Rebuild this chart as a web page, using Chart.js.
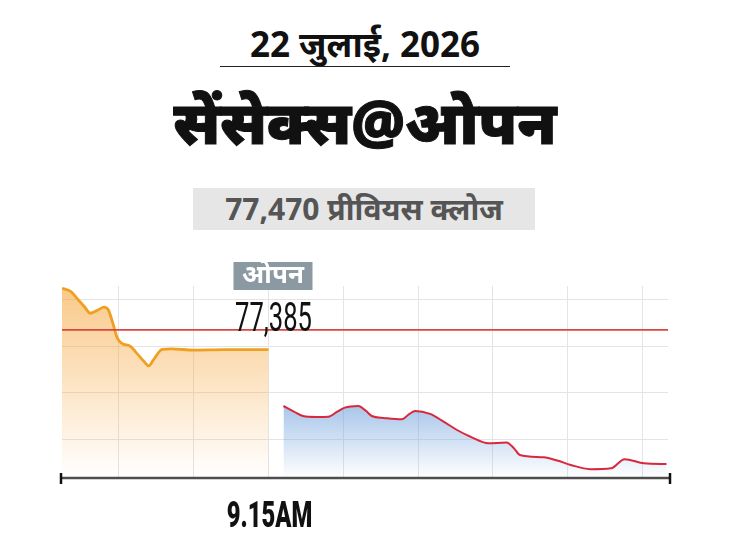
<!DOCTYPE html>
<html>
<head>
<meta charset="utf-8">
<script src="https://cdn.jsdelivr.net/npm/chart.js@4/dist/chart.umd.min.js"></script>
<style>
    body {
        margin: 0;
        width: 730px;
        height: 548px;
        background: #ffffff;
        position: relative;
        overflow: hidden;
        font-family: "Noto Sans", sans-serif;
    }
    #date {
        position: absolute;
        top: 20px;
        left: 0;
        width: 730px;
        text-align: center;
        font-size: 35px;
        font-weight: bold;
        color: #111;
    }
    #dateLine {
        position: absolute;
        top: 66px;
        left: 220px;
        width: 290px;
        height: 0;
        border-top: 1.5px solid #222;
    }
    #title {
        position: absolute;
        top: 80px;
        left: 0;
        width: 730px;
        text-align: center;
        font-size: 60px;
        font-weight: 900;
        color: #111;
        -webkit-text-stroke: 1px #111;
    }
    #prevClose {
        position: absolute;
        top: 188px;
        left: 193px;
        width: 342px;
        height: 42px;
        line-height: 42px;
        background: #e6e6e6;
        text-align: center;
        font-size: 30px;
        font-weight: bold;
        color: #555;
    }
    #wrap {
        position: absolute;
        top: 250px;
        left: 0;
        width: 730px;
        height: 298px;
    }
</style>
</head>
<body>
<div id="date">22 जुलाई, 2026</div>
<div id="dateLine"></div>
<div id="title">सेंसेक्स@ओपन</div>
<div id="prevClose">77,470 प्रीवियस क्लोज</div>
<div id="wrap"><canvas id="myChart"></canvas></div>

<script>
"use strict";

// minutes after 9:00
const preOpenMinutes = [1.2, 1.8, 2.2, 2.7, 3.1, 3.6, 4.0, 4.3, 4.6, 4.9, 5.2, 5.8, 6.2, 6.7, 7.0, 7.3, 7.9, 8.5, 10, 12, 15];
const preOpenValues = [77648, 77634, 77605, 77569, 77541, 77555, 77567, 77555, 77498, 77434, 77412, 77398, 77369, 77333, 77315, 77340, 77386, 77388, 77383, 77385, 77385];

const sessionMinutes = [16.0, 16.7, 17.3, 18.2, 19.0, 19.6, 20.1, 21.0, 21.5, 21.9, 22.7, 23.9, 24.4, 24.8, 25.8, 26.7, 27.6, 28.5, 29.7, 30.9, 31.4, 31.8, 33.4, 34.3, 35.2, 36.5, 37.9, 38.8, 40.1, 41.6];
const sessionValues = [77143, 77119, 77100, 77096, 77097, 77119, 77136, 77143, 77123, 77100, 77092, 77086, 77108, 77122, 77109, 77076, 77040, 77011, 76983, 76986, 76962, 76933, 76923, 76909, 76890, 76872, 76876, 76915, 76897, 76894];

const previousClose = 77470;
const openValue = 77385;
const openMinute = 15;
const openLabel = 'ओपन';
const timeLabel = '9.15AM';

const xRange = [1.2, 41.7];
const yRange = [76834, 77658];
const xTicks = [5, 10, 15, 20, 25, 30, 35, 40];
const yTicks = [77000, 77200, 77400, 77600];

const toPoints = (xs, ys) => xs.map((x, i) => ({ x: x, y: ys[i] }));

// gradient under a line, from the top of its series down to the axis
function fadeFill(rgb, topValue, top, mid) {
    return (context) => {
        const chart = context.chart;
        const area = chart.chartArea;
        if (!area) {
            return 'rgba(' + rgb + ',0)';
        }
        const y0 = chart.scales.y.getPixelForValue(topValue);
        const g = chart.ctx.createLinearGradient(0, y0, 0, area.bottom);
        g.addColorStop(0, 'rgba(' + rgb + ',' + top + ')');
        g.addColorStop(0.5, 'rgba(' + rgb + ',' + mid + ')');
        g.addColorStop(1, 'rgba(' + rgb + ',0)');
        return g;
    };
}

// axis with end caps, open label and time label
const labelsPlugin = {
    id: 'labels',
    afterDraw(chart) {
        const ctx = chart.ctx;
        const area = chart.chartArea;
        const xs = chart.scales.x;
        const ox = xs.getPixelForValue(openMinute);

        ctx.save();
        ctx.strokeStyle = '#4e4e4e';
        ctx.lineWidth = 2.5;
        ctx.beginPath();
        ctx.moveTo(area.left - 1, area.bottom);
        ctx.lineTo(area.right + 2, area.bottom);
        ctx.stroke();
        ctx.strokeStyle = '#111';
        [area.left - 1, area.right + 2].forEach((x) => {
            ctx.beginPath();
            ctx.moveTo(x, area.bottom - 5);
            ctx.lineTo(x, area.bottom + 6);
            ctx.stroke();
        });

        // open tag
        ctx.fillStyle = '#8b9aa2';
        ctx.fillRect(ox - 35, area.top - 24, 79, 28);
        ctx.fillStyle = '#ffffff';
        ctx.font = 'bold 26px "Noto Sans", sans-serif';
        ctx.textAlign = 'center';
        ctx.textBaseline = 'middle';
        ctx.fillText(openLabel, ox + 4.5, area.top - 10);

        // open value, condensed
        ctx.fillStyle = '#111';
        ctx.textBaseline = 'alphabetic';
        ctx.save();
        ctx.translate(ox + 5, area.top + 45);
        ctx.scale(0.64, 1);
        ctx.font = '40px Roboto, sans-serif';
        ctx.fillText(openValue.toLocaleString('en-US'), 0, 0);
        ctx.restore();

        // time label under axis
        ctx.save();
        ctx.translate(ox + 1, area.bottom + 49);
        ctx.scale(0.66, 1);
        ctx.font = '900 36px Roboto, sans-serif';
        ctx.fillText(timeLabel, 0, 0);
        ctx.restore();

        ctx.restore();
    }
};

const ctx = document.getElementById('myChart').getContext('2d');
const chart = new Chart(ctx, {
    type: 'line',
    data: {
        datasets: [
            {
                label: 'प्रीवियस क्लोज',
                data: toPoints(xRange, [previousClose, previousClose]),
                borderColor: '#d9473f',
                borderWidth: 1.8,
                pointRadius: 0,
                fill: false
            },
            {
                label: 'प्री-ओपन',
                data: toPoints(preOpenMinutes, preOpenValues),
                borderColor: '#f0a020',
                borderWidth: 2.8,
                pointRadius: 0,
                cubicInterpolationMode: 'monotone',
                fill: 'start',
                backgroundColor: fadeFill('246,165,60', Math.max(...preOpenValues), 0.6, 0.3)
            },
            {
                label: 'सेंसेक्स',
                data: toPoints(sessionMinutes, sessionValues),
                borderColor: '#d9283c',
                borderWidth: 2,
                pointRadius: 0,
                cubicInterpolationMode: 'monotone',
                fill: 'start',
                backgroundColor: fadeFill('110,160,220', Math.max(...sessionValues), 0.6, 0.3)
            }
        ]
    },
    options: {
        responsive: true,
        maintainAspectRatio: false,
        animation: false,
        layout: {
            padding: { top: 36, bottom: 70, left: 62, right: 62 }
        },
        plugins: {
            legend: { display: false },
            tooltip: { enabled: false }
        },
        scales: {
            x: {
                type: 'linear',
                min: xRange[0],
                max: xRange[1],
                afterBuildTicks: (axis) => {
                    axis.ticks = xTicks.map((v) => ({ value: v }));
                },
                ticks: { display: false },
                border: { display: false },
                grid: { color: '#e4e4e4', lineWidth: 1, drawTicks: false }
            },
            y: {
                min: yRange[0],
                max: yRange[1],
                afterBuildTicks: (axis) => {
                    axis.ticks = yTicks.map((v) => ({ value: v }));
                },
                ticks: { display: false },
                border: { display: false },
                grid: { color: '#e4e4e4', lineWidth: 1, drawTicks: false }
            }
        }
    },
    plugins: [labelsPlugin]
});
</script>
</body>
</html>
